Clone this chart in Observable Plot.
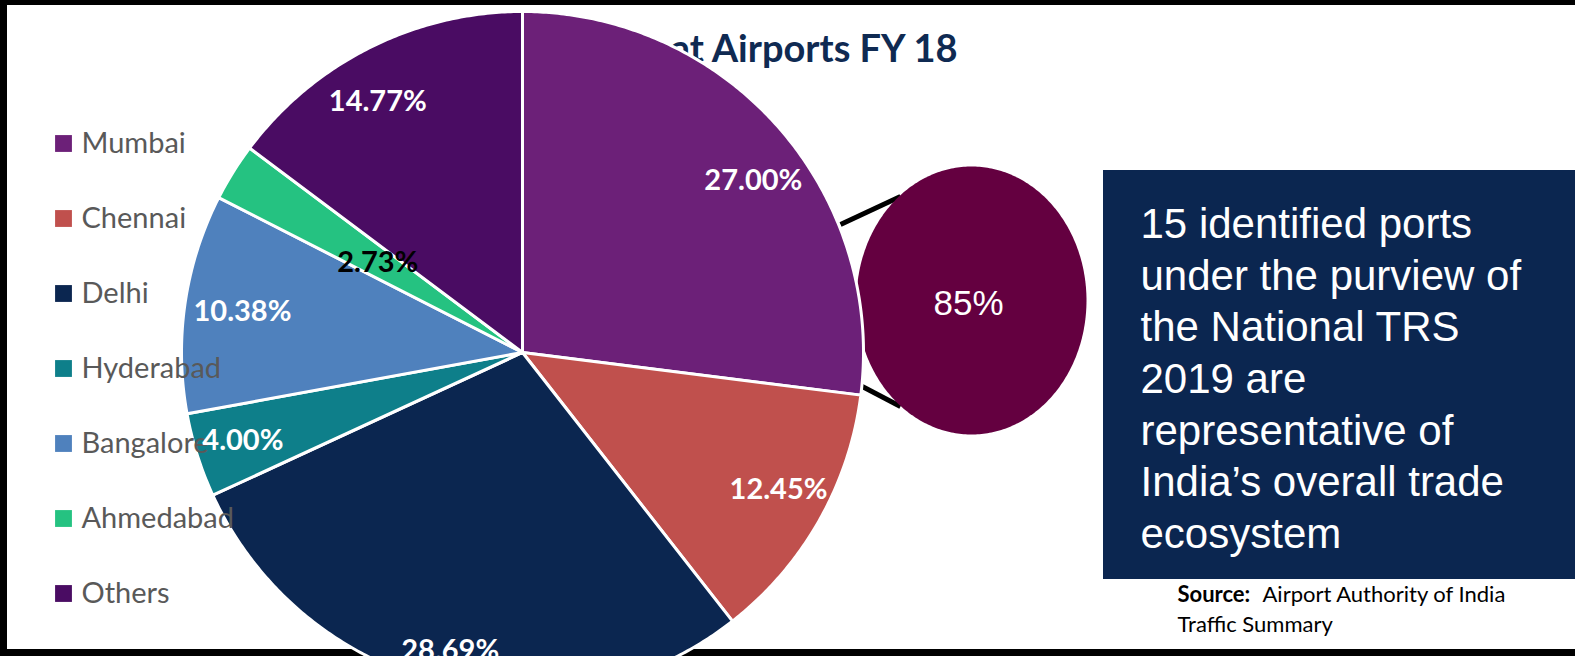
<!DOCTYPE html>
<html><head><meta charset="utf-8">
<script src="https://cdn.jsdelivr.net/npm/d3@7"></script>
<script src="https://cdn.jsdelivr.net/npm/@observablehq/plot@0.6"></script>
<style>html,body{margin:0;padding:0;background:#fff;overflow:hidden}</style>
</head><body><div id="chart"></div>
<script>
// ---- data ----
const airports = ["Mumbai","Chennai","Delhi","Hyderabad","Bangalore","Ahmedabad","Others"];
const shares = [27.00, 12.45, 28.69, 4.00, 10.38, 2.73, 14.77];
const colors = ["#6C2078","#C0504D","#0B2650","#0E7F8A","#4F81BD","#25C281","#4A0C63"];
const labelColors = ["#fff","#fff","#fff","#fff","#fff","#000","#fff"];
const titleText = "Share at Airports FY 18";
const highlightText = "85%";
const boxLines = ["15 identified ports","under the purview of","the National TRS","2019 are","representative of","India’s overall trade","ecosystem"];
const sourceLabel = "Source:";
const sourceLines = ["Airport Authority of India","Traffic Summary"];

// ---- layout (pixels) ----
const W = 1575, H = 656;
const P = {cx: 522, cy: 352, r: 341};
const labelRadius = [0.84, 0.85, 0.9, 0.86, 0.83, 0.5, 0.85];
const labelNudge = [[16, 18], [4, -6], [0, 0], [0, 0], [0, 0], [0, 0], [-15, 8]];
const E = {cx: 971, cy: 300, rx: 115, ry: 134};
const connectors = [{x1: 840, y1: 224, x2: 900, y2: 196}, {x1: 858, y1: 384, x2: 900, y2: 406}];
const frameBars = [{x1:0,x2:W,y1:0,y2:5},{x1:0,x2:7,y1:0,y2:H},{x1:0,x2:W,y1:649,y2:H}];
const box = {x1: 1103, x2: W, y1: 170, y2: 579};

const arcs = d3.pie().sort(null).value(d => d)(shares);
const pt = (a, rr) => [P.cx + rr * Math.sin(a), P.cy - rr * Math.cos(a)];
function slicePoly(a0, a1) {
  const pts = [[P.cx, P.cy]];
  const n = Math.max(2, Math.ceil((a1 - a0) / (Math.PI / 360)));
  for (let i = 0; i <= n; i++) pts.push(pt(a0 + (a1 - a0) * i / n, P.r));
  return pts;
}
const ellipsePts = d3.range(0, 360, 1).map(t => {
  const a = t * Math.PI / 180;
  return [E.cx + E.rx * Math.cos(a), E.cy + E.ry * Math.sin(a)];
});
const labels = arcs.map((a, i) => {
  const m = (a.startAngle + a.endAngle) / 2;
  const [x, y] = pt(m, P.r * labelRadius[i]);
  return {x: x + labelNudge[i][0], y: y + labelNudge[i][1], text: shares[i].toFixed(2) + "%", color: labelColors[i]};
});
const legend = airports.map((name, i) => ({name, color: colors[i], y: 143 + i * 75}));
const boxText = boxLines.map((t, i) => ({t, y: 224 + i * 51.7}));

const sliceMarks = arcs.map((a, i) => Plot.line(slicePoly(a.startAngle, a.endAngle), {
  x: d => d[0], y: d => d[1], curve: "linear-closed",
  fill: colors[i], stroke: "#fff", strokeWidth: 3, strokeLinejoin: "round"
}));

const chart = Plot.plot({
  width: W, height: H, margin: 0,
  x: {type: "identity", axis: null},
  y: {type: "identity", axis: null},
  style: {background: "#fff", overflow: "hidden"},
  marks: [
    Plot.rect(frameBars, {x1: "x1", x2: "x2", y1: "y1", y2: "y2", fill: "#000"}),
    Plot.text([titleText], {x: 957, y: 49, text: d => d, textAnchor: "end",
      fontFamily: "Lato", fontWeight: "bold", fontSize: 38, fill: "#0F2A52"}),
    Plot.link(connectors, {x1: "x1", y1: "y1", x2: "x2", y2: "y2", stroke: "#000", strokeWidth: 5}),
    Plot.line(ellipsePts, {x: d => d[0], y: d => d[1], curve: "linear-closed", fill: "#640040", stroke: "none"}),
    ...sliceMarks,
    Plot.text([highlightText], {x: E.cx - 3, y: E.cy + 3, text: d => d, fill: "#fff",
      fontFamily: "Liberation Sans", fontSize: 35}),
    Plot.rect([box], {x1: "x1", x2: "x2", y1: "y1", y2: "y2", fill: "#0B2650"}),
    Plot.text(boxText, {x: 1140, y: "y", text: "t", textAnchor: "start", fill: "#fff",
      fontFamily: "Liberation Sans", fontSize: 42}),
    Plot.text([sourceLabel], {x: 1177, y: 594, text: d => d, textAnchor: "start",
      fontFamily: "Lato", fontWeight: "bold", fontSize: 22, fill: "#000"}),
    Plot.text([sourceLines[0]], {x: 1262, y: 594, text: d => d, textAnchor: "start",
      fontFamily: "Lato", fontSize: 22, fill: "#000"}),
    Plot.text([sourceLines[1]], {x: 1177, y: 624, text: d => d, textAnchor: "start",
      fontFamily: "Lato", fontSize: 22, fill: "#000"}),
    Plot.dot(legend, {x: 63, y: "y", symbol: "square", r: 9.5, fill: "color", stroke: "none"}),
    Plot.text(legend, {x: 81, y: "y", text: "name", textAnchor: "start",
      fontFamily: "Lato", fontSize: 29, fill: "#595959"}),
    Plot.text(labels, {x: "x", y: "y", text: "text", fill: "color",
      fontFamily: "Lato", fontWeight: "bold", fontSize: 29})
  ]
});
document.getElementById("chart").appendChild(chart);
</script>
</body></html>
